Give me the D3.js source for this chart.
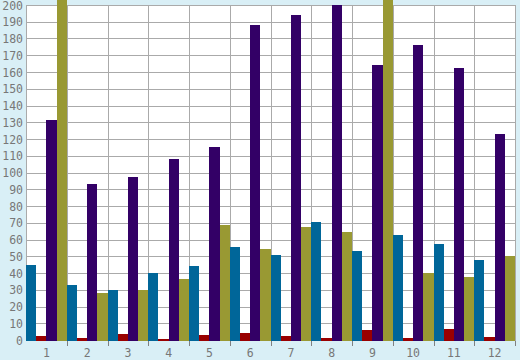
<!DOCTYPE html>
<html><head><meta charset="utf-8">
<script src="https://cdn.jsdelivr.net/npm/d3@7"></script>
<style>html,body{margin:0;padding:0;background:#d9eff6;}svg{display:block;}</style>
</head><body>
<svg id="c" width="520" height="360"></svg>
<script>
const categories = ["1","2","3","4","5","6","7","8","9","10","11","12"];
const seriesNames = ["A","B","C","D"];
const seriesA = [45, 33, 30, 40, 44, 55.5, 50.5, 70.4, 53, 62.5, 57.3, 47.8];
const seriesB = [2.4, 1.2, 3.6, 0.5, 3, 4.2, 2.4, 1.2, 6, 1.2, 6.6, 1.8];
const seriesC = [131.3, 93.1, 97.3, 108, 115.2, 188, 194, 200, 164, 176, 162.4, 123];
const seriesD = [220, 28, 29.9, 36.4, 68.7, 54.3, 67.5, 64.5, 220, 40, 37.6, 50.1];
const colors = ["#006699", "#990000", "#330066", "#999933"];
const yTicks = d3.range(0, 201, 10);

(function () {
const svg = d3.select("#c");
const pL = 26, pR = 515, pT = 5, pB = 340;
const x = d3.scaleBand().domain(categories).range([pL, pR]).padding(0);
const xs = d3.scaleBand().domain(seriesNames).range([0, x.bandwidth()]).padding(0);
const y = d3.scaleLinear().domain([0, 200]).range([pB + 0.5, pT + 0.5]);

svg.append("rect").attr("x", pL).attr("y", pT).attr("width", pR - pL).attr("height", pB - pT).attr("fill", "#ffffff");

const grid = svg.append("g").attr("stroke", "#aaaaaa").attr("stroke-width", 1).attr("shape-rendering", "crispEdges");
grid.selectAll("line.h").data(yTicks).join("line").attr("class","h")
  .attr("x1", pL).attr("x2", pR + 1)
  .attr("y1", d => Math.round(y(d) - 0.5) + 0.5).attr("y2", d => Math.round(y(d) - 0.5) + 0.5);
const bounds = categories.map(c => x(c)).concat([pR]);
grid.selectAll("line.v").data(bounds).join("line").attr("class","v")
  .attr("x1", d => Math.round(d) + 0.5).attr("x2", d => Math.round(d) + 0.5)
  .attr("y1", pT).attr("y2", pB + 1);

svg.append("g").attr("stroke", "#808080").attr("shape-rendering", "crispEdges")
  .selectAll("line").data(bounds.slice(1)).join("line")
  .attr("x1", d => Math.round(d) + 0.5).attr("x2", d => Math.round(d) + 0.5)
  .attr("y1", pB + 1).attr("y2", pB + 6);

const data = [seriesA, seriesB, seriesC, seriesD];
const gBars = svg.append("g").attr("shape-rendering", "crispEdges");
categories.forEach((c, i) => {
  seriesNames.forEach((s, j) => {
    const v = data[j][i];
    gBars.append("rect")
      .attr("x", x(c) + xs(s))
      .attr("width", xs.bandwidth())
      .attr("y", y(v) - 0.5)
      .attr("height", (pB + 1) - (y(v) - 0.5))
      .attr("fill", colors[j]);
  });
});

const font = "'DejaVu Sans Mono', monospace";
svg.append("g").selectAll("text").data(yTicks).join("text")
  .attr("x", 23).attr("y", d => y(d)).attr("dy", "0.35em")
  .attr("text-anchor", "end").attr("font-family", font).attr("font-size", 11.5)
  .attr("fill", "#777777").text(d => d);

svg.append("g").selectAll("text").data(categories).join("text")
  .attr("x", d => x(d) + x.bandwidth() / 2).attr("y", 353).attr("dy", "0.35em")
  .attr("text-anchor", "middle").attr("font-family", font).attr("font-size", 11.5)
  .attr("fill", "#777777").text(d => d);
})();
</script>
</body></html>
